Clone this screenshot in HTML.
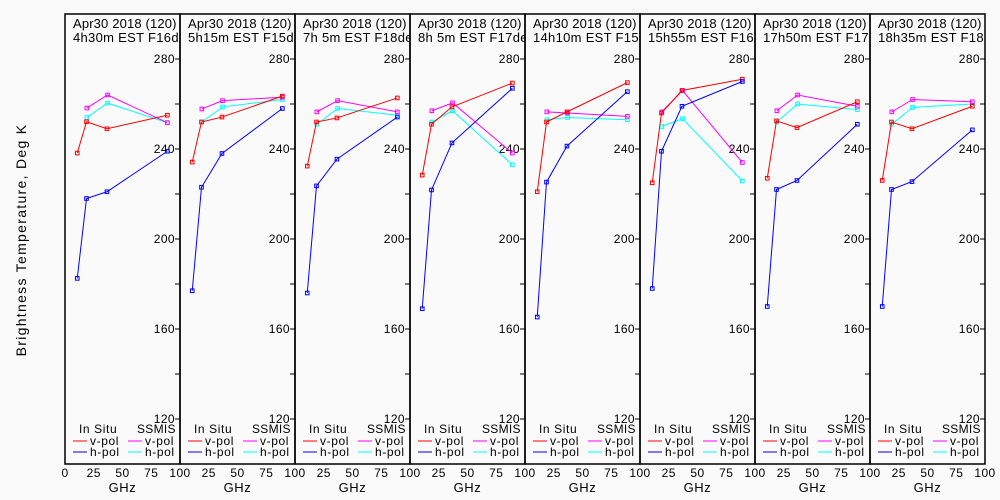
<!DOCTYPE html>
<html><head><meta charset="utf-8">
<style>
html,body{margin:0;padding:0;background:#fafafa;}
svg{display:block;font-family:"Liberation Sans",sans-serif;}
</style></head>
<body>
<svg id="chart" width="1000" height="500" viewBox="0 0 1000 500">
<rect x="0" y="0" width="1000" height="500" fill="#fafafa"/>
<text transform="translate(26,240) rotate(-90)" text-anchor="middle" font-size="14" letter-spacing="1.3" fill="#000">Brightness Temperature, Deg K</text>
</svg>
<script>
const titles = ["4h30m EST F16desc","5h15m EST F15desc","7h 5m EST F18desc","8h 5m EST F17desc","14h10m EST F15asc","15h55m EST F16asc","17h50m EST F17asc","18h35m EST F18asc"];
const inSituFreq = [10.65, 18.7, 36.5, 89];
const ssmisFreq = [19, 37, 89];
const inSituV = [[238.2,252.1,249,255],[234.2,252,254.2,263.5],[232.4,252,253.8,262.7],[228.4,251,258.7,269.3],[221,252,256.5,269.5],[225,256,266,271],[227,252.5,249.5,261],[226,252,249,259]];
const inSituH = [[182.5,218,221,239],[177,223,238,258],[176,223.6,235.5,254.2],[169,221.8,242.7,267],[165.3,225.3,241.3,265.5],[178,239,259,270],[170,222,226,251],[170,222,225.5,248.5]];
const ssmisV = [[258.2,264,251.7],[257.8,261.5,263],[256.5,261.5,256.5],[257,260.5,238.2],[256.5,256,254.5],[256.5,266,234],[257,264,259],[256.5,262,261]];
const ssmisH = [[254,260.4,251.7],[252,258.7,262],[251,258,255],[252,257,233],[253,254,253],[250,253.5,225.8],[252,260,257.5],[251,258.5,260]];
const yTicks = [120,160,200,240,280];
const xTicks = [0,25,50,75,100];

const NS="http://www.w3.org/2000/svg";
const svg=document.getElementById('chart');
const P0=65, PW=115, TOP=14, BOT=464;
function yS(v){return TOP+(300-v)*(BOT-TOP)/200;}
function mk(tag,attrs,parent){const e=document.createElementNS(NS,tag);for(const k in attrs)e.setAttribute(k,attrs[k]);(parent||svg).appendChild(e);return e;}

titles.forEach((t,i)=>{
  const x0=P0+i*PW;
  const xS=f=>x0+f*PW/100;
  const g=mk('g',{});
  
  
  const cp=mk('clipPath',{id:'cp'+i},g);
  mk('rect',{x:x0,y:0,width:PW,height:500},cp);
  const tg=mk('g',{'clip-path':'url(#cp'+i+')'},g);
  const t1=mk('text',{x:x0+8,y:28,'font-size':13,'letter-spacing':0.15,fill:'#000'},tg);
  t1.textContent='Apr30 2018 (120)';
  
  
  const t2=mk('text',{x:x0+8,y:42,'font-size':13,'letter-spacing':0.3,fill:'#000'},tg);
  t2.textContent=t;
  
  
  const fr=mk('rect',{x:x0,y:TOP,width:PW,height:BOT-TOP,fill:'none',stroke:'#000','stroke-width':1.5},g);
  
  
  for(let v=120;v<=300;v+=20){
    mk('line',{x1:x0+PW-5,x2:x0+PW,y1:yS(v),y2:yS(v),stroke:'#000','stroke-width':1},g);
  }
  yTicks.forEach(v=>{
    const tl=mk('text',{x:x0+PW-5,y:yS(v)+4,'text-anchor':'end','font-size':12,'letter-spacing':0.4,fill:'#000'},g);
    tl.textContent=v;
    
    
  });
  xTicks.forEach(v=>{
    if(i>0&&v===0)return;
    const tl=mk('text',{x:xS(v),y:477,'text-anchor':'middle','font-size':12,'letter-spacing':0.4,fill:'#000'},g);
    tl.textContent=v;
    
    
  });
  const gl=mk('text',{x:x0+PW/2,y:492,'text-anchor':'middle','font-size':13,'letter-spacing':0.6,fill:'#000'},g);
  gl.textContent='GHz';
  
  
  const series=[[ssmisFreq,ssmisH[i],'#00ffff','ssmis-h-pol'],[ssmisFreq,ssmisV[i],'#ff00ff','ssmis-v-pol'],[inSituFreq,inSituV[i],'#ff0000','in-situ-v-pol'],[inSituFreq,inSituH[i],'#0000ff','in-situ-h-pol']];
  series.forEach(([fx,vals,col,name])=>{
    const pts=fx.map((f,k)=>xS(f)+','+yS(vals[k])).join(' ');
    const pl=mk('polyline',{points:pts,fill:'none',stroke:col,'stroke-width':1},g);
    
    
    fx.forEach((f,k)=>{
      const m=mk('rect',{x:xS(f)-1.8,y:yS(vals[k])-1.8,width:3.6,height:3.6,fill:'none',stroke:col,'stroke-width':1},g);
      
      
    });
  });
  const lg=mk('g',{},g);
  
  
  const h1=mk('text',{x:x0+14,y:433,'font-size':12,'letter-spacing':0.6,fill:'#000'},lg);h1.textContent='In Situ';
  const h2=mk('text',{x:x0+72,y:433,'font-size':12,'letter-spacing':0.3,fill:'#000'},lg);h2.textContent='SSMIS';
  const ents=[[0,441,'#ff0000','v-pol'],[0,452,'#0000ff','h-pol'],[55,441,'#ff00ff','v-pol'],[55,452,'#00ffff','h-pol']];
  ents.forEach(([dx,y,c,l])=>{
    mk('line',{x1:x0+8+dx,x2:x0+22+dx,y1:y,y2:y,stroke:c,'stroke-width':1},lg);
    const et=mk('text',{x:x0+25+dx,y:y+4,'font-size':12,'letter-spacing':0.6,fill:'#000'},lg);
    et.textContent=l;
    
    
  });
});
</script>
</body></html>
